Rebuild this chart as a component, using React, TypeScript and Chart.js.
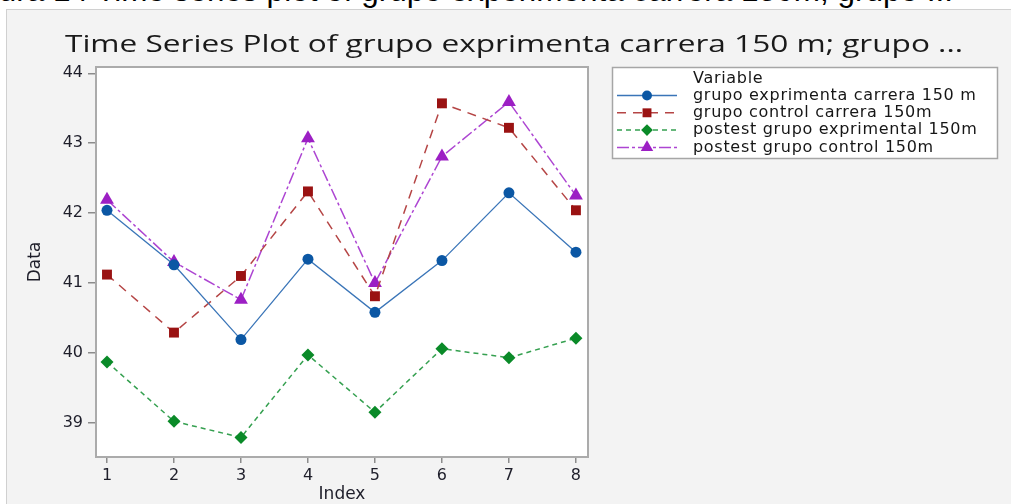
import React, { useEffect, useLayoutEffect, useRef } from 'react';
import { Chart, registerables } from 'chart.js';
import { drawPoint } from 'chart.js/helpers';

Chart.register(...registerables);

const captionText = 'Figura 14 Time series plot of grupo experimenta carrera 150m; grupo ...';
const titleText = 'Time Series Plot of grupo exprimenta carrera 150 m; grupo ...';
const legendTitle = 'Variable';
const xAxisTitle = 'Index';
const yAxisTitle = 'Data';

const indexValues = [1, 2, 3, 4, 5, 6, 7, 8];
const yTickValues = [39, 40, 41, 42, 43, 44];

const seriesNames = [
  'grupo exprimenta carrera 150 m',
  'grupo control carrera 150m',
  'postest grupo exprimental 150m',
  'postest grupo control 150m',
];
const grupoExprimenta = [42.04, 41.26, 40.19, 41.34, 40.58, 41.32, 42.29, 41.44];
const grupoControl = [41.12, 40.29, 41.1, 42.31, 40.81, 43.57, 43.22, 42.04];
const postestExprimental = [39.87, 39.02, 38.79, 39.97, 39.15, 40.06, 39.93, 40.21];
const postestControl = [42.19, 41.3, 40.76, 43.07, 41.0, 42.81, 43.59, 42.25];

const toPoints = (vals: number[]) => vals.map((v, i) => ({ x: indexValues[i], y: v }));

const plotFramePlugin = {
  id: 'plotFrame',
  beforeDatasetsDraw(chart: any) {
    const { ctx, chartArea } = chart;
    ctx.save();
    ctx.fillStyle = '#ffffff';
    ctx.fillRect(chartArea.left, chartArea.top, chartArea.right - chartArea.left, chartArea.bottom - chartArea.top);
    ctx.strokeStyle = '#ababab';
    ctx.lineWidth = 2;
    ctx.strokeRect(chartArea.left, chartArea.top, chartArea.right - chartArea.left, chartArea.bottom - chartArea.top);
    ctx.restore();
  },
};

const boxLegendPlugin = {
  id: 'boxLegend',
  afterDraw(chart: any) {
    const ctx = chart.ctx;
    ctx.save();
    const x0 = 612.5, y0 = 67.5, w = 385, h = 91;
    ctx.fillStyle = '#ffffff';
    ctx.fillRect(x0, y0, w, h);
    ctx.strokeStyle = '#a6a6a6';
    ctx.lineWidth = 1.5;
    ctx.strokeRect(x0, y0, w, h);
    ctx.font = '16px "DejaVu Sans"';
    (ctx as any).letterSpacing = '0.7px';
    ctx.fillStyle = '#161616';
    ctx.textBaseline = 'middle';
    ctx.textAlign = 'left';
    ctx.fillText(legendTitle, 693, 78.5);
    chart.data.datasets.forEach((ds: any, i: number) => {
      const y = 95.5 + i * 17.3;
      ctx.setLineDash(ds.borderDash || []);
      ctx.strokeStyle = ds.borderColor;
      ctx.lineWidth = ds.borderWidth;
      ctx.beginPath();
      ctx.moveTo(617, y);
      ctx.lineTo(677, y);
      ctx.stroke();
      ctx.setLineDash([]);
      ctx.fillStyle = ds.pointBackgroundColor;
      ctx.strokeStyle = ds.pointBackgroundColor;
      drawPoint(ctx, { pointStyle: ds.pointStyle, radius: ds.pointRadius * 0.9, rotation: 0, borderWidth: 0 }, 647, y);
      ctx.fillStyle = '#161616';
      ctx.fillText(ds.label, 693, y);
    });
    ctx.restore();
  },
};

export default function App() {
  const canvasRef = useRef<HTMLCanvasElement | null>(null);
  const titleRef = useRef<HTMLSpanElement | null>(null);

  useLayoutEffect(() => {
    const el = titleRef.current;
    if (el) {
      const wdt = el.getBoundingClientRect().width;
      if (wdt > 0) el.style.transform = `scaleX(${898 / wdt})`;
    }
  }, []);

  useEffect(() => {
    if (!canvasRef.current) return;
    const tickFont = { family: 'DejaVu Sans', size: 16 };
    const axisTitleFont = { family: 'DejaVu Sans', size: 17 };
    const chart = new Chart(canvasRef.current, {
      type: 'line',
      data: {
        datasets: [
          {
            label: seriesNames[0],
            data: toPoints(grupoExprimenta),
            borderColor: '#3a75b8',
            borderWidth: 1.3,
            pointStyle: 'circle',
            pointRadius: 5.5,
            pointBackgroundColor: '#0b57a4',
            pointBorderColor: '#0b57a4',
            pointBorderWidth: 0,
          },
          {
            label: seriesNames[1],
            data: toPoints(grupoControl),
            borderColor: '#b54545',
            borderWidth: 1.5,
            borderDash: [9, 7],
            pointStyle: 'rect',
            pointRadius: 7,
            pointBackgroundColor: '#9a1212',
            pointBorderColor: '#9a1212',
            pointBorderWidth: 0,
          },
          {
            label: seriesNames[2],
            data: toPoints(postestExprimental),
            borderColor: '#35a050',
            borderWidth: 1.5,
            borderDash: [5, 4],
            pointStyle: 'rectRot',
            pointRadius: 6.5,
            pointBackgroundColor: '#0a8a28',
            pointBorderColor: '#0a8a28',
            pointBorderWidth: 0,
          },
          {
            label: seriesNames[3],
            data: toPoints(postestControl),
            borderColor: '#ad45d2',
            borderWidth: 1.5,
            borderDash: [12, 3, 3, 3],
            pointStyle: 'triangle',
            pointRadius: 8,
            pointBackgroundColor: '#9c1fc4',
            pointBorderColor: '#9c1fc4',
            pointBorderWidth: 0,
          },
        ],
      },
      options: {
        animation: false,
        responsive: false,
        devicePixelRatio: 1,
        layout: { padding: { left: 18, top: 67, right: 423, bottom: 0 } },
        plugins: {
          legend: { display: false },
          title: { display: false },
          tooltip: { enabled: false },
        },
        scales: {
          x: {
            type: 'linear',
            min: 0.836,
            max: 8.18,
            afterBuildTicks: (s: any) => {
              s.ticks = indexValues.map((v) => ({ value: v }));
            },
            afterFit: (s: any) => {
              s.height = 47;
            },
            grid: { drawOnChartArea: false, drawTicks: true, tickLength: 6, color: '#8c8c8c', lineWidth: 1.5 },
            border: { display: false },
            ticks: { font: tickFont, color: '#1e1e2a', padding: 3, maxRotation: 0, autoSkip: false },
            title: { display: true, text: xAxisTitle, font: axisTitleFont, color: '#1e1e2a', padding: { top: 0, bottom: -1 } },
          },
          y: {
            type: 'linear',
            min: 38.51,
            max: 44.09,
            afterBuildTicks: (s: any) => {
              s.ticks = yTickValues.map((v) => ({ value: v }));
            },
            afterFit: (s: any) => {
              s.width = 78;
            },
            grid: { drawOnChartArea: false, drawTicks: true, tickLength: 8, color: '#8c8c8c', lineWidth: 1.5 },
            border: { display: false },
            ticks: { font: tickFont, color: '#1e1e2a', padding: 5 },
            title: { display: true, text: yAxisTitle, font: axisTitleFont, color: '#1e1e2a', padding: { top: 7, bottom: 0 } },
          },
        },
      },
      plugins: [plotFramePlugin, boxLegendPlugin],
    } as any);
    return () => chart.destroy();
  }, []);

  return (
    <div style={{ position: 'absolute', left: 0, top: 0, width: 1011, height: 504, overflow: 'hidden', background: '#ffffff' }}>
      <div
        style={{
          position: 'absolute',
          left: -45,
          top: -25,
          fontFamily: '"Liberation Sans", Arial, sans-serif',
          fontSize: 31.5,
          lineHeight: '31.5px',
          color: '#000',
          whiteSpace: 'nowrap',
        }}
      >
        {captionText}
      </div>
      <div
        style={{
          position: 'absolute',
          left: 6,
          top: 9,
          width: 1020,
          height: 520,
          background: '#f3f3f3',
          borderLeft: '1px solid #d0d0d0',
          borderTop: '1px solid #d0d0d0',
        }}
      />
      <canvas ref={canvasRef} width={1011} height={504} style={{ position: 'absolute', left: 0, top: 0, width: 1011, height: 504 }} />
      <span
        ref={titleRef}
        style={{
          position: 'absolute',
          left: 65,
          top: 32,
          fontFamily: '"Open Sans", sans-serif',
          fontSize: 23,
          lineHeight: '23px',
          color: '#1a1a1a',
          whiteSpace: 'nowrap',
          transformOrigin: '0 0',
        }}
      >
        {titleText}
      </span>
    </div>
  );
}
